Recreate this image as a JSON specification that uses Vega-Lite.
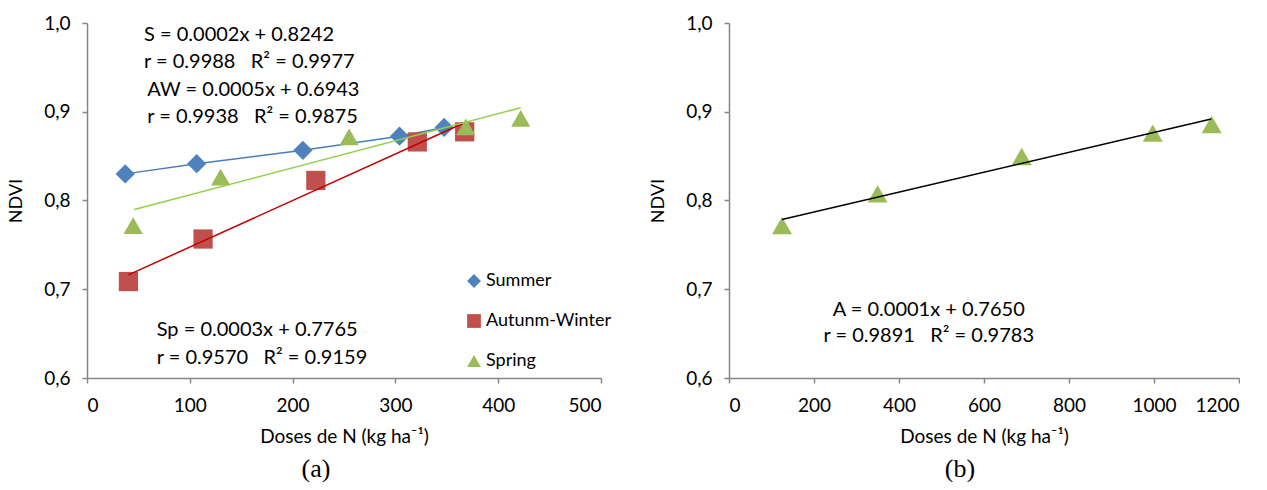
{
  "$schema": "https://vega.github.io/schema/vega-lite/v6.json",
  "background": "white",
  "padding": {"left": 7, "top": 14, "right": 0, "bottom": 0},
  "bounds": "flush",
  "spacing": 128,
  "datasets": {
    "pts_a": [
      {"season": "Summer", "dose": 37.2, "ndvi": 0.830},
      {"season": "Summer", "dose": 106.7, "ndvi": 0.8415},
      {"season": "Summer", "dose": 210, "ndvi": 0.8566},
      {"season": "Summer", "dose": 304, "ndvi": 0.8725},
      {"season": "Summer", "dose": 347.4, "ndvi": 0.8823},
      {"season": "Autunm-Winter", "dose": 40.3, "ndvi": 0.7087},
      {"season": "Autunm-Winter", "dose": 112.9, "ndvi": 0.7566},
      {"season": "Autunm-Winter", "dose": 222.6, "ndvi": 0.8226},
      {"season": "Autunm-Winter", "dose": 321.3, "ndvi": 0.866},
      {"season": "Autunm-Winter", "dose": 367.4, "ndvi": 0.8774},
      {"season": "Spring", "dose": 44.9, "ndvi": 0.7717},
      {"season": "Spring", "dose": 130, "ndvi": 0.8264},
      {"season": "Spring", "dose": 255, "ndvi": 0.8717},
      {"season": "Spring", "dose": 368.5, "ndvi": 0.883},
      {"season": "Spring", "dose": 421.9, "ndvi": 0.8925}
    ],
    "lines_a": [
      {"series": "S", "dose": 37.2, "ndvi": 0.830},
      {"series": "S", "dose": 106.7, "ndvi": 0.8415},
      {"series": "S", "dose": 210, "ndvi": 0.8566},
      {"series": "S", "dose": 304, "ndvi": 0.8725},
      {"series": "S", "dose": 347.4, "ndvi": 0.8823},
      {"series": "AW", "dose": 40.3, "ndvi": 0.7162},
      {"series": "AW", "dose": 365.5, "ndvi": 0.8868},
      {"series": "Sp", "dose": 46, "ndvi": 0.7898},
      {"series": "Sp", "dose": 421.9, "ndvi": 0.9045}
    ],
    "text_a": [
      {"label": "S = 0.0002x + 0.8242", "dose": 55.5, "ndvi": 0.9868},
      {"label": "r = 0.9988\u00a0\u00a0\u00a0R² = 0.9977", "dose": 55.5, "ndvi": 0.9566},
      {"label": "AW = 0.0005x + 0.6943", "dose": 58.6, "ndvi": 0.9245},
      {"label": "r = 0.9938\u00a0\u00a0\u00a0R² = 0.9875", "dose": 58.6, "ndvi": 0.8943},
      {"label": "Sp = 0.0003x + 0.7765", "dose": 67.8, "ndvi": 0.654},
      {"label": "r = 0.9570\u00a0\u00a0\u00a0R² = 0.9159", "dose": 67.8, "ndvi": 0.6226}
    ],
    "pts_b": [
      {"dose": 124.7, "ndvi": 0.7717},
      {"dose": 349.6, "ndvi": 0.8075},
      {"dose": 688.7, "ndvi": 0.8496},
      {"dose": 997, "ndvi": 0.876},
      {"dose": 1135.7, "ndvi": 0.8856}
    ],
    "line_b": [
      {"dose": 124.7, "ndvi": 0.7785},
      {"dose": 1134.6, "ndvi": 0.8918}
    ],
    "text_b": [
      {"label": "A = 0.0001x + 0.7650", "dose": 470, "ndvi": 0.677},
      {"label": "r = 0.9891\u00a0\u00a0\u00a0R² = 0.9783", "dose": 470, "ndvi": 0.647}
    ]
  },
  "hconcat": [
    {
      "width": 514,
      "height": 355,
      "title": {"text": "(a)", "orient": "bottom", "font": "Liberation Serif", "fontSize": 26, "fontWeight": "normal", "color": "#000000", "offset": 10, "dx": -28},
      "encoding": {
        "x": {"field": "dose", "type": "quantitative", "scale": {"domain": [0, 500], "nice": false, "zero": false}, "axis": {"values": [0, 100, 200, 300, 400, 500], "format": "d", "title": "Doses de N (kg ha⁻¹)"}},
        "y": {"field": "ndvi", "type": "quantitative", "scale": {"domain": [0.6, 1.0], "nice": false, "zero": false}, "axis": {"values": [0.6, 0.7, 0.8, 0.9, 1.0], "labelExpr": "replace(format(datum.value, '.1f'), '.', ',')", "title": "NDVI"}}
      },
      "layer": [
        {
          "data": {"name": "lines_a"},
          "transform": [{"filter": "datum.series == 'S'"}],
          "mark": {"type": "line", "strokeWidth": 1.5, "color": "#4A7EBB"}
        },
        {
          "data": {"name": "pts_a"},
          "mark": {"type": "point", "filled": true, "size": 370, "opacity": 1, "strokeWidth": 0},
          "encoding": {
            "color": {"field": "season", "type": "nominal", "scale": {"domain": ["Summer", "Autunm-Winter", "Spring"], "range": ["#4F81BD", "#C0504D", "#9BBB59"]},
              "legend": {"title": null, "orient": "none", "legendX": 378, "legendY": 249, "labelFont": "Lato", "labelFontSize": 18, "labelColor": "#000000", "symbolSize": 190, "rowPadding": 22, "labelOffset": 3, "padding": 0, "symbolStrokeWidth": 0}},
            "shape": {"field": "season", "type": "nominal", "scale": {"domain": ["Summer", "Autunm-Winter", "Spring"], "range": ["diamond", "square", "triangle-up"]},
              "legend": {"title": null, "orient": "none", "legendX": 378, "legendY": 249, "labelFont": "Lato", "labelFontSize": 18, "labelColor": "#000000", "symbolSize": 190, "rowPadding": 22, "labelOffset": 3, "padding": 0, "symbolStrokeWidth": 0}}
          }
        },
        {
          "data": {"name": "lines_a"},
          "transform": [{"filter": "datum.series != 'S'"}],
          "mark": {"type": "line", "strokeWidth": 1.5},
          "encoding": {
            "stroke": {"field": "series", "type": "nominal", "scale": {"domain": ["AW", "Sp"], "range": ["#C00000", "#92D050"]}, "legend": null}
          }
        },
        {
          "data": {"name": "text_a"},
          "mark": {"type": "text", "align": "left", "baseline": "middle", "font": "Lato", "fontSize": 20, "color": "#000000"},
          "encoding": {"text": {"field": "label", "type": "nominal"}}
        }
      ]
    },
    {
      "width": 510,
      "height": 355,
      "title": {"text": "(b)", "orient": "bottom", "font": "Liberation Serif", "fontSize": 26, "fontWeight": "normal", "color": "#000000", "offset": 10, "dx": -24},
      "encoding": {
        "x": {"field": "dose", "type": "quantitative", "scale": {"domain": [0, 1200], "nice": false, "zero": false}, "axis": {"values": [0, 200, 400, 600, 800, 1000, 1200], "format": "d", "title": "Doses de N (kg ha⁻¹)"}},
        "y": {"field": "ndvi", "type": "quantitative", "scale": {"domain": [0.6, 1.0], "nice": false, "zero": false}, "axis": {"values": [0.6, 0.7, 0.8, 0.9, 1.0], "labelExpr": "replace(format(datum.value, '.1f'), '.', ',')", "title": "NDVI"}}
      },
      "layer": [
        {
          "data": {"name": "pts_b"},
          "mark": {"type": "point", "filled": true, "shape": "triangle-up", "size": 400, "opacity": 1, "strokeWidth": 0, "color": "#9BBB59"}
        },
        {
          "data": {"name": "line_b"},
          "mark": {"type": "line", "strokeWidth": 1.5, "color": "#000000"}
        },
        {
          "data": {"name": "text_b"},
          "mark": {"type": "text", "align": "center", "baseline": "middle", "font": "Lato", "fontSize": 20, "color": "#000000"},
          "encoding": {"text": {"field": "label", "type": "nominal"}}
        }
      ]
    }
  ],
  "config": {
    "view": {"stroke": null},
    "font": "Lato",
    "axis": {
      "grid": false,
      "domainColor": "#868686",
      "domainWidth": 1.5,
      "tickColor": "#868686",
      "tickWidth": 1.5,
      "tickSize": 5,
      "labelFont": "Lato",
      "labelFontSize": 19,
      "labelColor": "#000000",
      "titleFont": "Lato",
      "titleFontSize": 18,
      "titleFontWeight": "normal",
      "titleColor": "#000000"
    },
    "axisY": {"labelPadding": 12, "titlePadding": 18},
    "axisX": {"labelPadding": 13, "titlePadding": 12, "titleFontSize": 19}
  }
}
